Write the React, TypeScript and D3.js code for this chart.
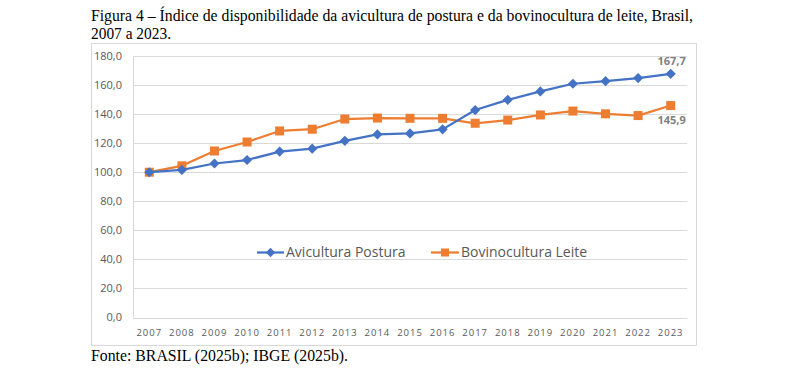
import React, { useRef, useEffect } from 'react'
import * as d3 from 'd3'

// data
const years = ['2007', '2008', '2009', '2010', '2011', '2012', '2013', '2014', '2015', '2016', '2017', '2018', '2019', '2020', '2021', '2022', '2023']
const avicultura = [100, 101.6, 106, 108.4, 114.2, 116.2, 121.6, 126, 126.7, 129.5, 142.8, 149.8, 155.6, 160.9, 162.7, 164.8, 167.7]
const bovinocultura = [100, 104.4, 114.6, 120.8, 128.4, 129.6, 136.6, 137.3, 137.1, 137.1, 133.7, 135.9, 139.4, 142.1, 140.2, 139, 145.9]
const yTicks = [0, 20, 40, 60, 80, 100, 120, 140, 160, 180]
const seriesNames = ['Avicultura Postura', 'Bovinocultura Leite']
const endLabels = ['167,7', '145,9']

const W = 787, H = 373
const frame = { x0: 91, y0: 43, x1: 696, y1: 345 }
const plot = { left: 133, right: 687, top: 56, bottom: 317.5 }
const BLUE = '#4472C4', ORANGE = '#ED7D31', GRID = '#d9d9d9', TXT = '#595959'
const fmt = (v: number) => v.toFixed(1).replace('.', ',')

export default function App() {
  const ref = useRef<SVGSVGElement>(null)

  useEffect(() => {
    const svg = d3.select(ref.current)
    svg.selectAll('*').remove()

    // title + source (Times-like)
    const serif = '"Liberation Serif", "Times New Roman", serif'
    svg.append('text').attr('x', 91).attr('y', 20.5).attr('font-family', serif).attr('font-size', 16)
      .attr('textLength', 602).attr('lengthAdjust', 'spacingAndGlyphs')
      .text('Figura 4 – Índice de disponibilidade da avicultura de postura e da bovinocultura de leite, Brasil,')
    svg.append('text').attr('x', 91).attr('y', 38.5).attr('font-family', serif).attr('font-size', 16)
      .attr('textLength', 80).attr('lengthAdjust', 'spacingAndGlyphs')
      .text('2007 a 2023.')
    svg.append('text').attr('x', 91).attr('y', 360.5).attr('font-family', serif).attr('font-size', 16)
      .attr('textLength', 257).attr('lengthAdjust', 'spacingAndGlyphs')
      .text('Fonte: BRASIL (2025b); IBGE (2025b).')

    // chart frame
    svg.append('rect').attr('x', frame.x0 + 0.5).attr('y', frame.y0 + 0.5)
      .attr('width', frame.x1 - frame.x0).attr('height', frame.y1 - frame.y0)
      .attr('fill', '#fff').attr('stroke', GRID)

    const x = d3.scaleBand().domain(years).range([plot.left, plot.right])
    const y = d3.scaleLinear().domain([0, 180]).range([plot.bottom, plot.top])
    const cx = (yr: string) => (x(yr) as number) + x.bandwidth() / 2

    const font = '"Open Sans", Roboto, sans-serif'

    // gridlines
    svg.append('g').selectAll('line').data(yTicks).join('line')
      .attr('x1', plot.left).attr('x2', plot.right)
      .attr('y1', d => Math.round(y(d)) + 0.5).attr('y2', d => Math.round(y(d)) + 0.5)
      .attr('stroke', GRID).attr('stroke-width', 1)
    svg.append('line').attr('x1', plot.left + 0.5).attr('x2', plot.left + 0.5)
      .attr('y1', plot.top).attr('y2', plot.bottom).attr('stroke', GRID)

    // y labels
    svg.append('g').selectAll('text').data(yTicks).join('text')
      .attr('x', 122).attr('y', d => y(d)).attr('dy', '0.35em').attr('text-anchor', 'end')
      .attr('font-family', font).attr('font-size', 11).attr('fill', TXT)
      .text(d => fmt(d))

    // x labels
    svg.append('g').selectAll('text').data(years).join('text')
      .attr('x', d => cx(d)).attr('y', 335.5).attr('text-anchor', 'middle')
      .attr('font-family', font).attr('font-size', 9.5).attr('letter-spacing', 1).attr('fill', TXT)
      .text(d => d)

    // legend
    const lg = svg.append('g').attr('font-family', font).attr('font-size', 14).attr('fill', TXT)
    const ly = 252.5
    lg.append('line').attr('x1', 257).attr('x2', 284).attr('y1', ly).attr('y2', ly).attr('stroke', BLUE).attr('stroke-width', 2.25)
    lg.append('path').attr('d', d3.symbol(d3.symbolDiamond2, 55)()).attr('transform', `translate(270.5,${ly})`).attr('fill', BLUE)
    lg.append('text').attr('x', 286).attr('y', ly).attr('dy', '0.35em').text(seriesNames[0])
    lg.append('line').attr('x1', 431).attr('x2', 459).attr('y1', ly).attr('y2', ly).attr('stroke', ORANGE).attr('stroke-width', 2.25)
    lg.append('rect').attr('x', 441).attr('y', ly - 4).attr('width', 8).attr('height', 8).attr('fill', ORANGE)
    lg.append('text').attr('x', 461).attr('y', ly).attr('dy', '0.35em').text(seriesNames[1])

    const line = d3.line<number>().x((_, i) => cx(years[i])).y(d => y(d))

    // orange series first, blue on top
    svg.append('path').datum(bovinocultura).attr('d', line).attr('fill', 'none')
      .attr('stroke', ORANGE).attr('stroke-width', 2.25).attr('stroke-linejoin', 'round')
    svg.append('g').selectAll('rect').data(bovinocultura).join('rect')
      .attr('x', (_, i) => cx(years[i]) - 4.5).attr('y', d => y(d) - 4.5)
      .attr('width', 9).attr('height', 9).attr('fill', ORANGE)

    svg.append('path').datum(avicultura).attr('d', line).attr('fill', 'none')
      .attr('stroke', BLUE).attr('stroke-width', 2.25).attr('stroke-linejoin', 'round')
    svg.append('g').selectAll('path').data(avicultura).join('path')
      .attr('d', d3.symbol(d3.symbolDiamond2, 66)())
      .attr('transform', (d, i) => `translate(${cx(years[i])},${y(d)})`)
      .attr('fill', BLUE)

    // end labels
    const last = years[years.length - 1]
    svg.append('text').attr('x', cx(last) + 15).attr('y', y(avicultura[16]) - 9)
      .attr('text-anchor', 'end').attr('font-family', font).attr('font-size', 11).attr('font-weight', 'bold')
      .attr('fill', '#7f7f7f').text(endLabels[0])
    svg.append('text').attr('x', cx(last) + 15).attr('y', y(bovinocultura[16]) + 18)
      .attr('text-anchor', 'end').attr('font-family', font).attr('font-size', 11).attr('font-weight', 'bold')
      .attr('fill', '#7f7f7f').text(endLabels[1])
  }, [])

  return (
    <svg ref={ref} width={W} height={H}
      style={{ position: 'absolute', left: 0, top: 0, background: '#fff', display: 'block' }} />
  )
}
